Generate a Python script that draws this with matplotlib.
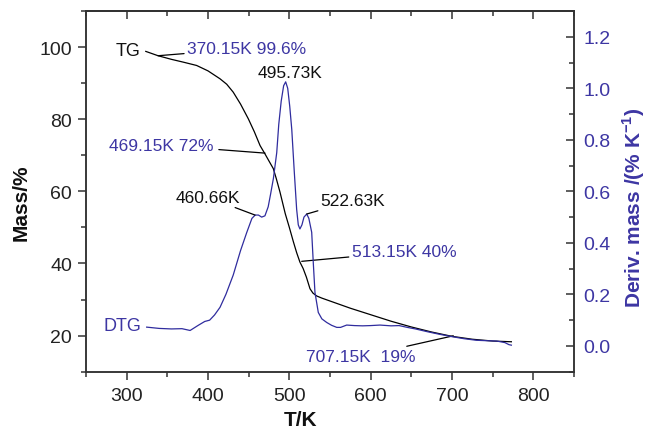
import matplotlib
matplotlib.use("Agg")
import matplotlib.pyplot as plt
from matplotlib.ticker import MultipleLocator

plt.rcParams['font.family'] = ['Liberation Sans', 'DejaVu Sans']
plt.rcParams['mathtext.fontset'] = 'custom'
plt.rcParams['mathtext.rm'] = 'Liberation Sans'
plt.rcParams['mathtext.bf'] = 'Liberation Sans:bold'

BLUE_TXT = '#3d36a3'
BLUE_LINE = '#2f2c9e'
DARK = '#222222'

# ---- data ----
T_tg = [323.5, 338.6, 355, 370, 386, 400, 414.8, 423, 431, 440, 449.6, 457, 464, 470,
        475, 480.3, 484, 488.5, 495, 500, 505, 509, 513, 517, 521, 525.4, 529, 533.6,
        540, 550, 575, 600, 625, 650, 675, 700, 725, 750, 773]
mass_tg = [98.8, 97.6, 96.6, 95.8, 94.9, 93.4, 91.2, 89.7, 87.5, 84.2, 80.1, 76.5, 72.7, 70.4,
           68.4, 66.3, 63.5, 59.8, 53.8, 50.0, 46.0, 43.0, 40.4, 38.6, 36.2, 33.0, 31.8, 31.0,
           30.4, 29.6, 27.6, 25.8, 24.0, 22.4, 21.0, 19.8, 19.0, 18.5, 18.3]

T_dtg = [324.6, 340, 355, 368, 378, 388, 396, 402, 408, 414.8, 422, 431, 440, 447.6, 454,
         458, 462, 466, 470, 474, 477, 480.4, 484.5, 487, 490, 493, 495.5, 498, 500.5, 503,
         506, 509, 511, 513, 515.5, 518, 521.4, 524, 527.5, 529.5, 531.5, 535.6, 540, 546,
         552, 558.3, 563, 570.5, 580, 590, 600, 611.5, 625, 635, 645, 655, 670, 685, 700,
         715, 730, 745, 755, 765, 770, 773]
dtg = [0.073, 0.068, 0.066, 0.067, 0.060, 0.080, 0.095, 0.100, 0.120, 0.150, 0.200, 0.275,
       0.370, 0.440, 0.495, 0.508, 0.508, 0.500, 0.505, 0.540, 0.590, 0.650, 0.750, 0.860,
       0.950, 1.010, 1.025, 1.000, 0.930, 0.840, 0.680, 0.530, 0.470, 0.454, 0.470, 0.500,
       0.512, 0.495, 0.441, 0.320, 0.208, 0.130, 0.105, 0.091, 0.080, 0.072, 0.072, 0.081,
       0.079, 0.078, 0.079, 0.081, 0.078, 0.079, 0.072, 0.066, 0.055, 0.045, 0.036, 0.028,
       0.022, 0.020, 0.019, 0.013, 0.005, 0.003]

x_ticks = [300, 400, 500, 600, 700, 800]
mass_ticks = [20, 40, 60, 80, 100]
dtg_ticks = [0.0, 0.2, 0.4, 0.6, 0.8, 1.0, 1.2]

fig = plt.figure(figsize=(6.48, 4.31), dpi=100)
ax = fig.add_axes([86/648, 1-372.7/431, (574-86)/648, (372.7-12)/431])
ax2 = ax.twinx()

ax.plot(T_tg, mass_tg, color='black', lw=0.9, zorder=3)
ax2.plot(T_dtg, dtg, color=BLUE_LINE, lw=0.9, zorder=2)

ax.set_xlim(250, 850)
ax.set_ylim(10, 110)
ax2.set_ylim(-0.1, 1.3)

ax.set_xticks(x_ticks)
ax.xaxis.set_minor_locator(MultipleLocator(50))
ax.set_yticks(mass_ticks)
ax.yaxis.set_minor_locator(MultipleLocator(10))
ax2.set_yticks(dtg_ticks)
ax2.set_yticklabels([f'{v:.1f}' for v in dtg_ticks])
ax2.yaxis.set_minor_locator(MultipleLocator(0.1))

for a in (ax, ax2):
    for s in a.spines.values():
        s.set_linewidth(1.1)
        s.set_color('#333333')

ax.tick_params(axis='x', which='major', direction='out', length=6, width=1.1,
               labelsize=14, pad=5, colors='#333333', labelcolor=DARK)
ax.tick_params(axis='x', which='minor', direction='out', length=3.5, width=1.1,
               colors='#333333')
ax.tick_params(axis='y', which='major', direction='out', length=6, width=1.1,
               labelsize=14, pad=4, colors='#333333', labelcolor=DARK)
ax.tick_params(axis='y', which='minor', direction='out', length=3.5, width=1.1,
               colors='#333333')
ax2.tick_params(axis='y', which='major', direction='in', length=6, width=1.1,
                labelsize=14, pad=7, colors='#333333', labelcolor=BLUE_TXT)
ax2.tick_params(axis='y', which='minor', direction='in', length=3.5, width=1.1,
                colors='#333333')
# top ticks inward
secx = ax.secondary_xaxis('top')
secx.set_xticks(x_ticks)
secx.xaxis.set_minor_locator(MultipleLocator(50))
secx.tick_params(which='major', direction='in', length=6, width=1.1, labeltop=False,
                 colors='#333333')
secx.tick_params(which='minor', direction='in', length=3.5, width=1.1, colors='#333333')
secx.spines['top'].set_linewidth(1.1)

# axis labels
fig.text(300.8/648, 1-421/431, 'T/K', fontsize=15, fontweight='bold',
         ha='center', va='center', color='#111111')
fig.text(21/648, 1-203/431, 'Mass/%', fontsize=15, fontweight='bold',
         ha='center', va='center', rotation=90, color='#111111')
fig.text(634/648, 1-208/431, r'Deriv. mass /(% K$^{\mathbf{-1}}$)', fontsize=15,
         fontweight='bold', ha='center', va='center', rotation=90, color=BLUE_TXT)

# annotations
fs = 12.5
ax.text(317, 99.0, 'TG', fontsize=13, ha='right', va='center', color='#111111')
ax2.text(318, 0.081, 'DTG', fontsize=13, ha='right', va='center', color=BLUE_TXT)

ax.annotate('370.15K 99.6%', xy=(338.6, 97.6), xytext=(374, 99.6), fontsize=fs,
            color=BLUE_TXT, ha='left', va='center',
            arrowprops=dict(arrowstyle='-', color='black', lw=0.9, shrinkA=0, shrinkB=0))
ax.annotate('469.15K 72%', xy=(470.1, 70.6), xytext=(406.5, 72.8), fontsize=fs,
            color=BLUE_TXT, ha='right', va='center',
            arrowprops=dict(arrowstyle='-', color='black', lw=0.9, shrinkA=2, shrinkB=0))
ax.annotate('513.15K 40%', xy=(515.2, 40.6), xytext=(576.5, 43.2), fontsize=fs,
            color=BLUE_TXT, ha='left', va='center',
            arrowprops=dict(arrowstyle='-', color='black', lw=0.9, shrinkA=0, shrinkB=0))
ax.annotate('707.15K  19%', xy=(701.6, 19.95), xytext=(655.5, 14.2), fontsize=fs,
            color=BLUE_TXT, ha='right', va='center',
            arrowprops=dict(arrowstyle='-', color='black', lw=0.9, shrinkA=0, shrinkB=0))

ax2.text(500.8, 1.062, '495.73K', fontsize=fs, ha='center', va='center', color='#111111')
ax2.annotate('460.66K', xy=(457.8, 0.508), xytext=(439.5, 0.577), fontsize=fs,
             color='#111111', ha='right', va='center',
             arrowprops=dict(arrowstyle='-', color='black', lw=0.9, shrinkA=0, shrinkB=0))
ax2.annotate('522.63K', xy=(521.4, 0.512), xytext=(538.5, 0.564), fontsize=fs,
             color='#111111', ha='left', va='center',
             arrowprops=dict(arrowstyle='-', color='black', lw=0.9, shrinkA=0, shrinkB=0))

fig.savefig('out.png', dpi=100)
